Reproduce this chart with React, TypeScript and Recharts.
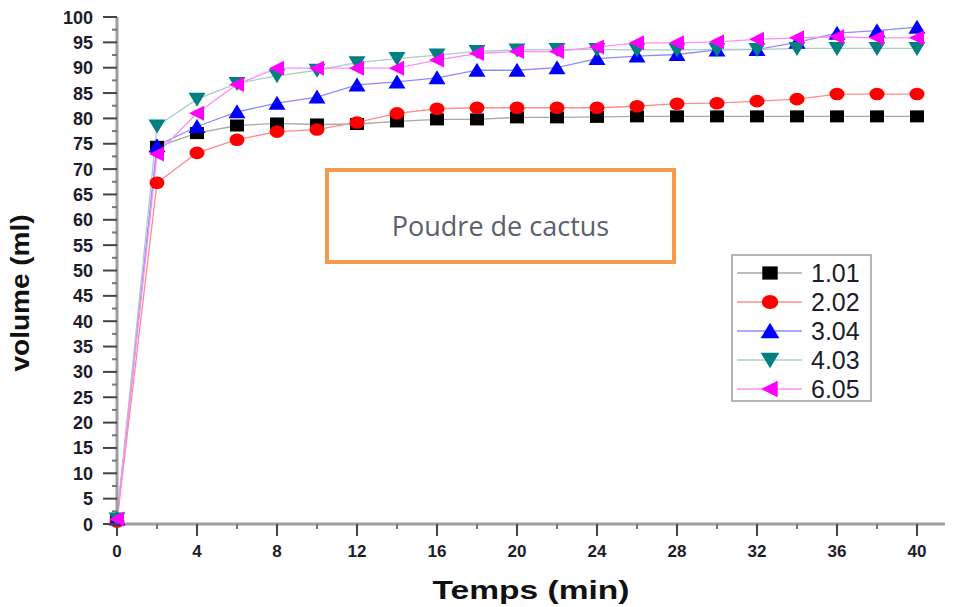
import React from "react";
import { LineChart, Line, XAxis, YAxis, Legend } from "recharts";

// time (min)
const TIME = [0, 2, 4, 6, 8, 10, 12, 14, 16, 18, 20, 22, 24, 26, 28, 30, 32, 34, 36, 38, 40];

// volume (ml) per dose
const DOSE_101 = [1, 74.4, 77.1, 78.6, 79.0, 78.8, 78.9, 79.4, 79.8, 79.8, 80.2, 80.2, 80.3, 80.4, 80.4, 80.4, 80.4, 80.4, 80.4, 80.4, 80.4];
const DOSE_202 = [0.5, 67.3, 73.2, 75.8, 77.4, 77.8, 79.2, 81.0, 81.9, 82.1, 82.1, 82.1, 82.1, 82.4, 82.9, 83.0, 83.4, 83.8, 84.8, 84.8, 84.8];
const DOSE_304 = [1, 74.6, 78.4, 81.3, 83.0, 84.2, 86.6, 87.2, 88.0, 89.5, 89.5, 90.0, 91.8, 92.3, 92.6, 93.5, 93.6, 95.0, 96.8, 97.3, 98.0];
const DOSE_403 = [1, 78.5, 83.8, 86.9, 88.4, 89.5, 91.0, 91.8, 92.5, 93.2, 93.5, 93.6, 93.6, 93.5, 93.5, 93.6, 93.6, 93.8, 93.8, 93.8, 93.8];
const DOSE_605 = [1, 73.0, 81.0, 86.7, 89.9, 89.9, 89.9, 89.9, 91.5, 92.8, 93.2, 93.2, 94.1, 94.9, 94.9, 95.1, 95.6, 95.9, 96.1, 95.9, 95.9];

const X_TICKS = [0, 2, 4, 6, 8, 10, 12, 14, 16, 18, 20, 22, 24, 26, 28, 30, 32, 34, 36, 38, 40];
const Y_TICKS = [
  0, 2.5, 5, 7.5, 10, 12.5, 15, 17.5, 20, 22.5, 25, 27.5, 30, 32.5, 35, 37.5, 40, 42.5, 45, 47.5, 50,
  52.5, 55, 57.5, 60, 62.5, 65, 67.5, 70, 72.5, 75, 77.5, 80, 82.5, 85, 87.5, 90, 92.5, 95, 97.5, 100,
];

const data = TIME.map((t, i) => ({
  t,
  d101: DOSE_101[i],
  d202: DOSE_202[i],
  d304: DOSE_304[i],
  d403: DOSE_403[i],
  d605: DOSE_605[i],
}));

type Shape = "square" | "circle" | "up" | "down" | "left";

const SERIES: { key: string; name: string; shape: Shape; fill: string; line: string }[] = [
  { key: "d101", name: "1.01", shape: "square", fill: "#000000", line: "#a8a8a8" },
  { key: "d202", name: "2.02", shape: "circle", fill: "#ff0000", line: "#ff8c8c" },
  { key: "d304", name: "3.04", shape: "up", fill: "#0000ff", line: "#8c8cff" },
  { key: "d403", name: "4.03", shape: "down", fill: "#008080", line: "#a9cccc" },
  { key: "d605", name: "6.05", shape: "left", fill: "#ff00ff", line: "#ff8cff" },
];

const FONT = "'Liberation Sans', Arial, sans-serif";

function Marker({ shape, cx, cy, fill, k = 1 }: { shape: Shape; cx: number; cy: number; fill: string; k?: number }) {
  const w = 8.5 * k;
  const h = 6.5 * k;
  switch (shape) {
    case "square":
      return <rect x={cx - 7 * k} y={cy - 6 * k} width={14 * k} height={12 * k} fill={fill} />;
    case "circle":
      return <ellipse cx={cx} cy={cy} rx={7.5 * k} ry={6.3 * k} fill={fill} />;
    case "up":
      return <polygon points={`${cx},${cy - h - 1} ${cx + w},${cy + h} ${cx - w},${cy + h}`} fill={fill} />;
    case "down":
      return <polygon points={`${cx - w},${cy - h} ${cx + w},${cy - h} ${cx},${cy + h + 1}`} fill={fill} />;
    default:
      return <polygon points={`${cx - 8 * k},${cy} ${cx + 7 * k},${cy - 7.5 * k} ${cx + 7 * k},${cy + 7.5 * k}`} fill={fill} />;
  }
}

const dotFor = (shape: Shape, fill: string, key: string) => (p: any) => {
  if (p.cx == null || p.cy == null) return <g key={`${key}-${p.index}`} />;
  return (
    <g key={`${key}-${p.index}`}>
      <Marker shape={shape} cx={p.cx} cy={p.cy} fill={fill} />
    </g>
  );
};

function XTick({ x, y, payload }: any) {
  const major = payload.value % 4 === 0;
  return (
    <g>
      <line x1={x} x2={x} y1={y} y2={y + (major ? 12 : 5)} stroke={major ? "#444" : "#777"} strokeWidth={2} />
      {major && (
        <text x={x} y={y + 33} textAnchor="middle" fontFamily={FONT} fontWeight="bold" fontSize={17} fill="#1c1c2a">
          {payload.value}
        </text>
      )}
    </g>
  );
}

function YTick({ x, y, payload }: any) {
  const major = payload.value % 5 === 0;
  return (
    <g>
      <line x1={x - (major ? 14 : 5)} x2={x} y1={y} y2={y} stroke={major ? "#444" : "#777"} strokeWidth={2} />
      {major && (
        <text x={x - 24} y={y + 6.5} textAnchor="end" fontFamily={FONT} fontWeight="bold" fontSize={18} fill="#1c1c2a">
          {payload.value}
        </text>
      )}
    </g>
  );
}

function LegendBox() {
  return (
    <div
      style={{
        width: 141,
        height: 148,
        boxSizing: "border-box",
        border: "2px solid #b4b4b4",
        background: "#fff",
        paddingTop: 2,
        fontFamily: FONT,
      }}
    >
      {SERIES.map((s) => (
        <div key={s.key} style={{ display: "flex", alignItems: "center", height: 29 }}>
          <svg width={78} height={24} style={{ display: "block" }}>
            <line x1={4} x2={69} y1={12} y2={12} stroke={s.line} strokeWidth={1.5} />
            <Marker shape={s.shape} cx={37} cy={12} fill={s.fill} k={1.1} />
          </svg>
          <span style={{ fontSize: 25, color: "#1c1c2a", lineHeight: "24px" }}>{s.name}</span>
        </div>
      ))}
    </div>
  );
}

export default function App() {
  return (
    <div style={{ position: "relative", width: 953, height: 607, background: "#fff" }}>
      <style>{"body{margin:0}"}</style>
      <LineChart width={953} height={607} data={data} margin={{ top: 17, right: 8, bottom: 0, left: 0 }}>
        <XAxis
          dataKey="t"
          type="number"
          domain={[0, 41.4]}
          ticks={X_TICKS}
          interval={0}
          height={83}
          tickSize={0}
          tickMargin={0}
          tickLine={false}
          axisLine={{ stroke: "#9e9e9e", strokeWidth: 3 }}
          tick={<XTick />}
          label={() => (
            <text
              x={531}
              y={599}
              textAnchor="middle"
              fontFamily={FONT}
              fontWeight="bold"
              fontSize={25}
              textLength={197}
              lengthAdjust="spacingAndGlyphs"
              fill="#111"
            >
              Temps (min)
            </text>
          )}
        />
        <YAxis
          type="number"
          domain={[0, 100]}
          ticks={Y_TICKS}
          interval={0}
          width={117}
          tickSize={0}
          tickMargin={0}
          tickLine={false}
          axisLine={{ stroke: "#9e9e9e", strokeWidth: 3 }}
          tick={<YTick />}
          label={() => (
            <text
              x={29}
              y={293}
              transform="rotate(-90 29 293)"
              textAnchor="middle"
              fontFamily={FONT}
              fontWeight="bold"
              fontSize={26}
              textLength={157}
              lengthAdjust="spacingAndGlyphs"
              fill="#111"
            >
              volume (ml)
            </text>
          )}
        />
        {SERIES.map((s) => (
          <Line
            key={s.key}
            type="linear"
            dataKey={s.key}
            name={s.name}
            stroke={s.line}
            strokeWidth={1.3}
            dot={dotFor(s.shape, s.fill, s.key)}
            activeDot={false}
            isAnimationActive={false}
          />
        ))}
        <Legend
          layout="vertical"
          align="center"
          verticalAlign="middle"
          content={() => <LegendBox />}
          wrapperStyle={{ left: 731, top: 254, width: 141, height: 148 }}
        />
      </LineChart>
      <div
        style={{
          position: "absolute",
          left: 325,
          top: 168,
          width: 351,
          height: 96,
          boxSizing: "border-box",
          border: "4px solid #f59a4e",
          background: "#fff",
          textAlign: "center",
          fontFamily: "'Open Sans', sans-serif",
          fontSize: 27,
          color: "#5b5f6b",
          paddingTop: 38,
          lineHeight: "32px",
        }}
      >
        Poudre de cactus
      </div>
    </div>
  );
}
